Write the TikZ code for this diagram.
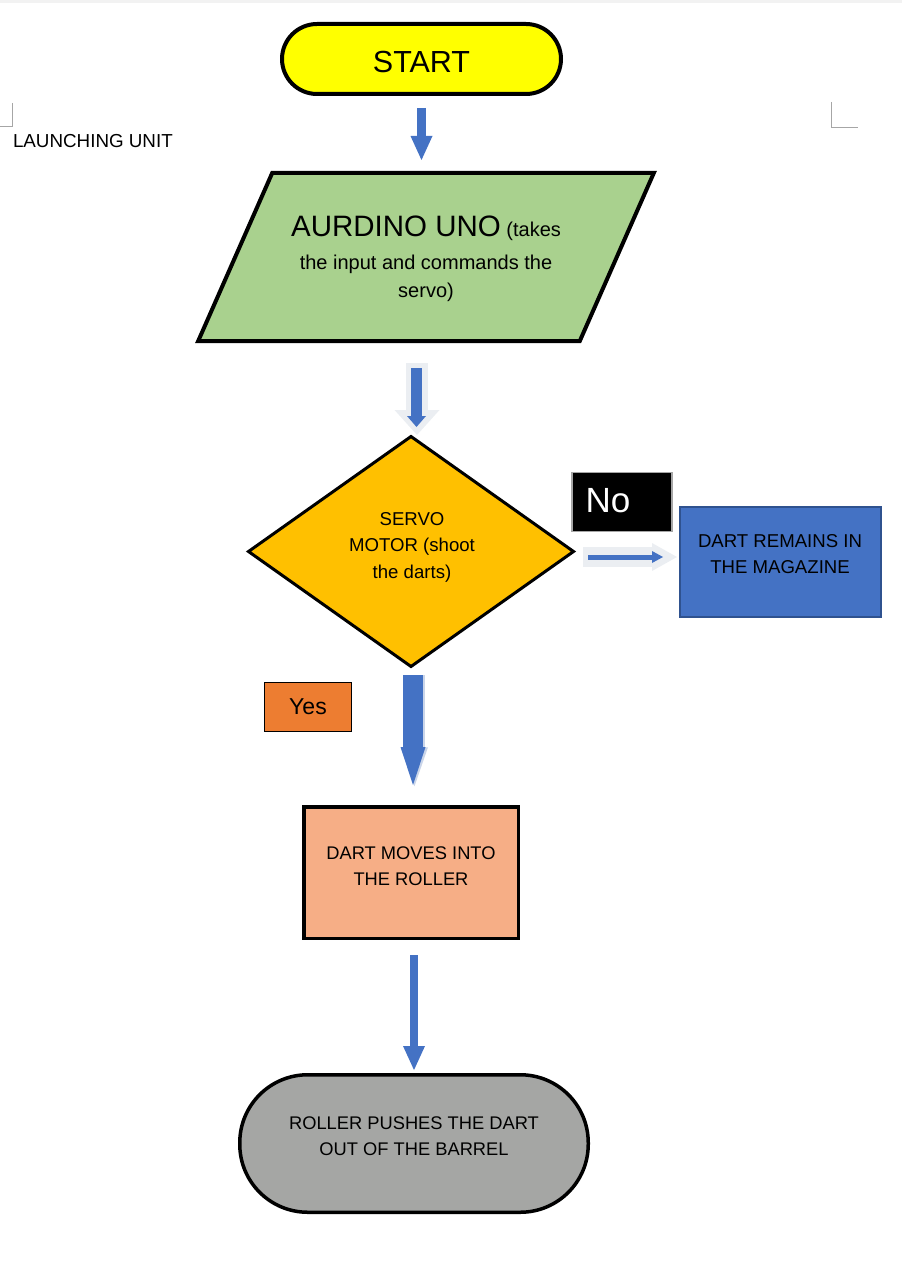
\documentclass[tikz,border=0pt]{standalone}
\usepackage{fontspec}
\setmainfont{Liberation Sans}
\usetikzlibrary{shapes.geometric,arrows.meta}
\definecolor{ablue}{HTML}{4472C4}
\definecolor{bluedark}{HTML}{2F528F}
\definecolor{ayellow}{HTML}{FFFF00}
\definecolor{agreen}{HTML}{A9D18E}
\definecolor{agold}{HTML}{FFC000}
\definecolor{aorange}{HTML}{ED7D31}
\definecolor{asalmon}{HTML}{F6AE86}
\definecolor{agray}{HTML}{A5A6A4}
\definecolor{halo}{HTML}{EBEEF2}
\definecolor{markgray}{HTML}{A6A6A6}
\tikzset{
  every node/.style={outer sep=0pt, inner sep=0pt},
  body/.style={font=\fontsize{18.3}{26.5}\selectfont, align=center},
  startbox/.style={draw=black, line width=4pt, fill=ayellow, rounded corners=35pt,
    minimum width=279pt, minimum height=70pt, font=\fontsize{30.5}{34}\selectfont,
    text height=27pt, text depth=0pt},
  iodraw/.style={draw=black, line width=4pt, fill=agreen, line join=miter},
  decbox/.style={diamond, draw=black, line width=3pt, fill=agold,
    minimum width=325pt, minimum height=230pt},
  nobox/.style={draw=markgray, line width=1.5pt, fill=black,
    minimum width=100pt, minimum height=59pt},
  magbox/.style={draw=bluedark, line width=2pt, fill=ablue,
    minimum width=201pt, minimum height=110pt},
  yesbox/.style={draw=black, line width=1.5pt, fill=aorange,
    minimum width=87pt, minimum height=49pt, font=\fontsize{23}{26}\selectfont},
  salbox/.style={draw=black, line width=3.5pt, fill=asalmon,
    minimum width=214.5pt, minimum height=131.5pt},
  endbox/.style={draw=black, line width=3.5pt, fill=agray, rounded corners=68pt,
    minimum width=348.5pt, minimum height=137.5pt},
  barrow/.style n args={3}{draw=#1, line width=#2, -{Triangle[#3, line width=0pt]}},
}
\begin{document}
\begin{tikzpicture}[x=1pt, y=-1pt]
\useasboundingbox (0,0) rectangle (902,1265);
\fill[black!5] (0,0) rectangle (902,3);

% corner marks
\draw[markgray, line width=1pt] (12,103) -- (12,127) -- (0,127);
\draw[markgray, line width=1pt] (831,102) -- (831,128) -- (858,128);

\node[anchor=west, font=\fontsize{18.8}{22}\selectfont] (unit) at (13,141) {LAUNCHING UNIT};

% nodes
\node[startbox] (start) at (421.5,59) {START};

\coordinate (ioTL) at (272.2,173);
\coordinate (ioTR) at (653.8,173);
\coordinate (ioBR) at (579.8,341);
\coordinate (ioBL) at (198.2,341);
\draw[iodraw] (ioTL) -- (ioTR) -- (ioBR) -- (ioBL) -- cycle;
\node[align=center, font=\fontsize{20}{28}\selectfont] (io) at (426,259) {%
  {\fontsize{29.5}{28}\selectfont AURDINO UNO} (takes\\[5pt]
  the input and commands the\\
  servo)};

\node[decbox] (dia) at (411,551.5) {};
\node[body, font=\fontsize{18.6}{26.5}\selectfont] (diatext) at (412,547) {SERVO\\MOTOR (shoot\\the darts)};
\node[nobox] (no) at (622,502) {};
\node[text=white, font=\fontsize{35}{38}\selectfont] (notext) at (608,501) {No};
\node[magbox] (mag) at (780.5,562) {};
\node[body, font=\fontsize{18.6}{26}\selectfont] (magtext) at (780,554) {DART REMAINS IN\\THE MAGAZINE};
\node[yesbox] (yes) at (308,707) {Yes};
\node[salbox] (sal) at (411,872.5) {};
\node[body] (saltext) at (411,866) {DART MOVES INTO\\THE ROLLER};
\node[endbox] (fin) at (414,1143.5) {};
\node[body] (fintext) at (414,1136) {ROLLER PUSHES THE DART\\OUT OF THE BARREL};

% arrows
\draw[barrow={ablue}{8.5pt}{width=22pt,length=24pt}, shorten <=14pt, shorten >=13pt]
  (start.south) -- (start.south |- ioTL);

\draw[barrow={halo}{22pt}{width=45pt,length=25pt}, shorten <=22pt, shorten >=1.5pt]
  ([xshift=6pt]dia.north |- ioBL) -- ([xshift=6pt]dia.north);
\draw[barrow={ablue}{11pt}{width=19pt,length=11pt}, shorten <=27pt, shorten >=9.5pt]
  ([xshift=5.5pt]dia.north |- ioBL) -- ([xshift=5.5pt]dia.north);

\draw[barrow={halo}{20pt}{width=28pt,length=25pt}, shorten <=9.5pt, shorten >=3pt]
  ([yshift=-5.5pt]dia.east) -- ([yshift=-5.5pt]dia.east -| mag.west);
\draw[barrow={ablue}{5pt}{width=12pt,length=11pt}, shorten <=14.5pt, shorten >=17pt]
  ([yshift=-5.5pt]dia.east) -- ([yshift=-5.5pt]dia.east -| mag.west);

\draw[barrow={halo!80!ablue}{20pt}{width=27pt,length=39pt}, shorten <=8.5pt, shorten >=20.5pt]
  ([xshift=3.5pt]dia.south) -- ([xshift=3.5pt]dia.south |- sal.north);
\draw[barrow={ablue}{20pt}{width=25pt,length=38pt}, shorten <=8.5pt, shorten >=21.75pt]
  ([xshift=2pt]dia.south) -- ([xshift=2pt]dia.south |- sal.north);

\draw[barrow={ablue}{7.5pt}{width=22pt,length=24pt}, shorten <=16.75pt, shorten >=4.75pt]
  (fin.north |- sal.south) -- (fin.north);
\end{tikzpicture}
\end{document}
